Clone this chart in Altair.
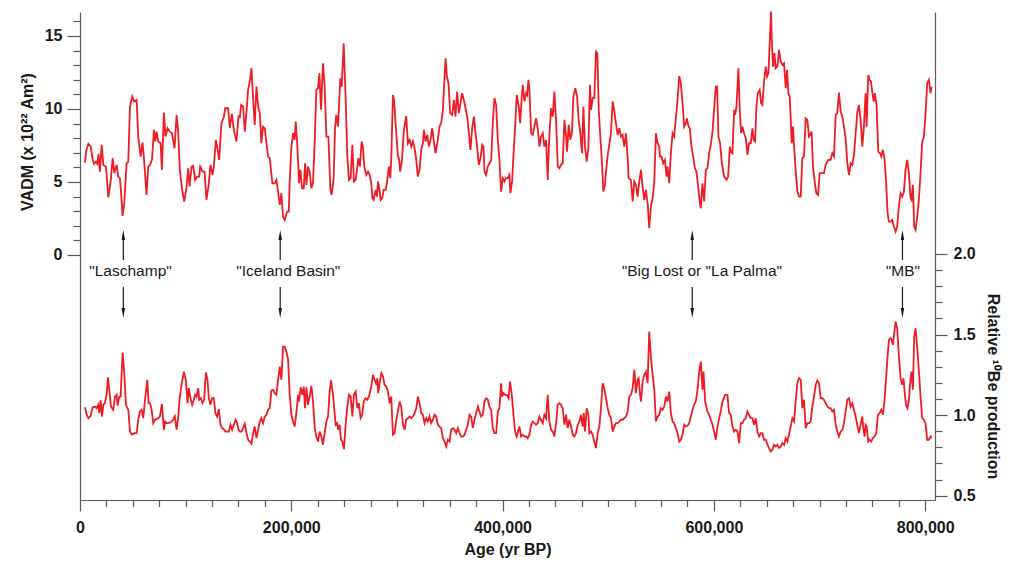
import altair as alt
import pandas as pd

# ---------------- data (age in ka, value) ----------------
vadm_0_275 = [
    (4.7, 6.33), (5.7, 7.08), (7.9, 7.61), (10.1, 7.43), (12.0, 6.51), (13.2, 6.24), (15.1, 6.40),
    (16.4, 6.24), (17.6, 6.92), (18.9, 5.71), (20.5, 7.54), (22.1, 6.17), (24.6, 6.05), (26.8, 3.95),
    (29.0, 5.03), (30.9, 6.63), (32.5, 5.60), (34.7, 6.17), (36.2, 5.37), (37.8, 5.26), (39.4, 3.77),
    (40.3, 2.68), (41.9, 3.54), (44.1, 6.28), (45.7, 6.40), (47.3, 10.17), (49.5, 10.85), (51.4, 10.51),
    (53.6, 10.62), (55.1, 8.11), (57.4, 6.74), (59.2, 7.70), (60.5, 6.63), (63.0, 4.11), (64.6, 6.05),
    (66.2, 6.17), (68.1, 6.51), (70.0, 8.57), (71.2, 7.77), (72.5, 8.45), (74.1, 7.77), (76.3, 7.65),
    (77.5, 5.83), (79.4, 9.75), (81.0, 8.11), (82.9, 8.68), (85.1, 8.45), (87.0, 8.34), (89.5, 7.31),
    (91.4, 9.59), (93.0, 8.34), (94.5, 5.83), (96.7, 4.46), (98.6, 3.66), (100.8, 4.57), (102.4, 5.94),
    (103.7, 4.69), (105.6, 6.05), (107.1, 6.10), (109.0, 5.14), (110.9, 5.37), (112.8, 5.37), (113.8, 6.05),
    (116.0, 5.71), (117.9, 5.71), (119.7, 3.77), (121.6, 4.69), (123.5, 6.17), (125.4, 5.48), (126.7, 6.05),
    (128.6, 7.88), (130.1, 7.31), (131.7, 6.51), (133.9, 9.02), (136.1, 9.43), (137.4, 10.05), (140.2, 10.05),
    (141.8, 8.68), (143.7, 9.66), (145.9, 8.45), (148.1, 7.77), (150.0, 9.48), (151.3, 9.43), (152.5, 10.28),
    (154.4, 10.17), (156.0, 8.45), (157.6, 9.82), (159.1, 11.31), (160.7, 11.88), (162.3, 12.79), (163.9, 10.62),
    (165.4, 8.91), (167.0, 11.53), (168.6, 10.17), (170.2, 9.71), (171.7, 7.65), (173.3, 8.79), (174.9, 8.68),
    (176.5, 7.65), (178.0, 6.74), (179.6, 6.63), (182.1, 4.91), (184.3, 4.91), (185.9, 5.14), (187.5, 4.34),
    (189.1, 3.43), (190.6, 4.23), (192.2, 2.63), (193.8, 2.40), (196.0, 2.97), (197.6, 2.97), (198.5, 5.03),
    (200.1, 7.42), (201.7, 8.34), (203.2, 7.88), (204.2, 9.14), (205.8, 7.42), (207.3, 4.91), (208.6, 5.83),
    (210.2, 4.57), (211.8, 4.57), (213.0, 6.28), (214.3, 4.80), (215.8, 6.05), (217.4, 5.71), (219.0, 4.57),
    (220.6, 4.96), (222.2, 7.88), (223.7, 11.31), (225.3, 11.42), (226.6, 12.45), (228.1, 9.94), (230.0, 13.13),
    (231.6, 11.53), (233.2, 8.11), (235.1, 8.11), (237.0, 4.46), (238.2, 4.11), (240.1, 5.26), (241.4, 8.68),
    (242.6, 9.59), (244.2, 8.79), (246.4, 12.10), (247.7, 11.53), (249.6, 14.50), (251.5, 10.62), (253.0, 6.74),
    (254.6, 5.14), (256.2, 5.26), (257.8, 7.54), (259.3, 5.03), (260.9, 5.14), (262.2, 5.83), (263.4, 6.63),
    (265.0, 6.05), (266.6, 7.77), (267.8, 7.42), (269.1, 6.05), (271.0, 5.48), (272.6, 5.71),
]
vadm_275_550 = [
    (274.2, 5.48), (275.7, 4.91), (276.7, 3.89), (277.9, 3.77), (279.8, 4.46), (281.1, 4.00), (282.0, 5.03),
    (283.0, 4.69), (284.6, 3.77), (286.1, 3.89), (287.4, 4.46), (289.3, 4.46), (290.5, 4.91), (292.4, 6.05),
    (293.7, 5.26), (294.6, 6.51), (296.2, 10.96), (297.2, 10.62), (299.4, 8.34), (300.9, 6.74), (301.9, 6.63),
    (303.1, 5.71), (304.7, 6.51), (306.6, 8.57), (308.8, 9.52), (310.4, 7.65), (312.0, 7.88), (313.5, 7.42),
    (315.1, 7.77), (316.7, 7.31), (318.3, 6.51), (319.8, 5.37), (321.4, 5.83), (323.0, 7.20), (324.6, 7.65),
    (325.5, 8.57), (327.1, 7.77), (328.7, 8.22), (330.2, 7.42), (331.8, 7.88), (333.4, 8.68), (334.7, 7.88),
    (336.5, 6.97), (338.7, 7.88), (340.3, 8.79), (341.9, 9.02), (343.5, 9.94), (345.1, 12.22), (346.0, 13.47),
    (347.3, 12.22), (348.8, 11.76), (350.4, 9.71), (352.3, 9.59), (353.9, 10.62), (355.4, 9.48), (357.0, 11.19),
    (358.6, 9.71), (360.2, 10.39), (361.7, 11.08), (363.3, 10.62), (364.9, 10.05), (366.5, 9.48), (368.1, 8.34),
    (369.6, 7.20), (371.2, 8.68), (372.8, 9.48), (374.4, 8.34), (375.9, 7.42), (377.5, 6.17), (379.1, 6.63),
    (380.7, 7.54), (381.9, 7.42), (382.9, 5.71), (384.4, 5.48), (386.0, 6.05), (387.6, 6.28), (389.2, 6.51),
    (390.7, 9.02), (392.3, 10.74), (393.9, 10.28), (395.5, 7.88), (397.0, 6.51), (398.6, 4.34), (400.2, 5.26),
    (401.8, 5.03), (403.3, 5.26), (404.9, 5.26), (406.5, 5.48), (407.4, 4.23), (409.0, 5.03), (410.6, 7.20),
    (412.2, 9.25), (413.4, 10.96), (415.3, 10.17), (416.6, 9.02), (418.2, 10.85), (419.1, 11.65), (420.7, 10.51),
    (422.3, 11.08), (423.2, 10.96), (424.5, 11.99), (425.4, 11.31), (427.0, 8.34), (428.6, 8.22), (430.1, 8.79),
    (431.7, 9.36), (433.3, 8.68), (434.9, 7.42), (436.4, 8.11), (438.0, 8.34), (439.6, 7.42), (441.2, 7.88),
    (442.7, 5.14), (444.3, 8.22), (445.9, 10.05), (447.5, 9.48), (449.0, 11.19), (450.6, 9.25), (452.2, 6.05),
    (453.8, 5.94), (455.3, 6.17), (456.9, 6.28), (458.5, 9.25), (460.1, 8.11), (461.0, 7.08), (462.6, 8.91),
    (464.2, 7.88), (465.7, 8.45), (467.0, 10.85), (468.9, 11.42), (470.5, 10.85), (472.0, 9.25), (473.6, 8.34),
    (475.2, 6.97), (476.5, 10.17), (478.0, 7.42), (479.6, 6.40), (481.2, 7.31), (482.7, 11.65), (483.7, 9.94),
    (485.3, 10.74), (486.8, 10.74), (488.4, 13.93), (489.7, 13.82), (491.0, 9.94), (492.5, 8.11), (494.1, 6.28),
    (495.4, 4.34), (496.9, 4.80), (497.9, 5.71), (499.5, 6.85), (501.0, 7.54), (502.6, 8.34), (504.2, 10.51),
    (505.8, 9.82), (507.3, 9.02), (508.9, 8.22), (510.5, 8.68), (512.1, 8.11), (513.6, 8.22), (515.2, 7.42),
    (516.8, 8.34), (518.4, 6.63), (519.3, 5.26), (521.5, 5.14), (523.1, 3.66), (524.7, 5.03), (526.2, 4.80),
    (527.8, 4.00), (529.4, 5.03), (531.0, 5.83), (532.5, 4.69), (534.1, 3.77), (535.7, 4.46), (537.3, 3.54),
    (538.8, 1.83), (540.4, 3.32), (542.0, 3.89), (543.6, 5.00), (545.1, 8.34), (546.7, 7.65), (548.3, 7.42),
]
vadm_550_810 = [
    (548.9, 6.74), (550.5, 6.74), (552.0, 6.28), (553.6, 6.51), (555.2, 5.37), (556.1, 6.05), (557.7, 4.91),
    (559.3, 6.97), (560.9, 8.34), (562.4, 8.11), (564.0, 9.36), (565.6, 10.62), (567.2, 12.26), (568.7, 11.76),
    (570.3, 10.39), (571.9, 8.79), (573.5, 9.02), (574.4, 9.36), (576.0, 8.79), (577.2, 8.68), (578.8, 7.42),
    (580.4, 6.74), (582.0, 5.94), (583.5, 5.71), (585.1, 4.69), (586.7, 3.54), (587.6, 3.20), (589.2, 4.91),
    (590.8, 3.66), (592.4, 5.83), (593.9, 5.94), (595.5, 6.97), (597.1, 7.54), (598.7, 8.45), (600.2, 9.94),
    (601.8, 11.53), (603.1, 11.53), (604.3, 8.11), (605.9, 7.65), (607.5, 6.28), (609.7, 5.37), (611.9, 5.14),
    (613.5, 5.37), (615.1, 7.42), (616.0, 7.08), (617.6, 6.97), (619.2, 9.94), (620.1, 9.59), (621.4, 10.17),
    (623.2, 12.79), (624.5, 9.94), (625.8, 8.34), (627.0, 8.79), (628.6, 8.34), (630.2, 8.00), (631.8, 6.85),
    (633.3, 7.65), (634.9, 7.65), (636.5, 8.68), (637.7, 7.88), (639.0, 7.77), (640.3, 10.17), (641.5, 11.08),
    (643.4, 11.31), (644.7, 10.39), (645.9, 10.28), (647.5, 11.88), (649.1, 12.90), (650.3, 12.22), (651.6, 12.45),
    (652.9, 14.62), (654.1, 16.67), (654.8, 14.73), (656.0, 12.90), (657.3, 13.82), (658.5, 12.79), (660.1, 12.90),
    (661.7, 14.05), (663.3, 13.25), (664.8, 13.02), (666.4, 13.13), (668.0, 11.42), (669.3, 12.68), (670.5, 11.08),
    (671.8, 10.85), (673.7, 7.65), (674.9, 8.79), (675.9, 7.42), (677.4, 5.83), (679.0, 4.34), (680.6, 4.00),
    (682.2, 4.00), (683.7, 6.63), (685.3, 6.74), (686.9, 9.36), (688.5, 9.25), (690.0, 8.11), (691.0, 8.22),
    (692.5, 8.45), (693.8, 6.05), (695.4, 5.03), (697.0, 4.23), (698.6, 4.11), (700.1, 5.60), (702.7, 5.60),
    (704.2, 5.60), (705.8, 6.17), (708.3, 6.51), (710.5, 6.51), (712.1, 6.97), (713.7, 6.74), (715.3, 9.59),
    (716.8, 9.71), (718.4, 11.12), (720.0, 9.82), (721.6, 9.48), (723.1, 8.79), (724.7, 8.00), (726.3, 6.28),
    (727.9, 5.48), (729.4, 6.28), (731.0, 6.17), (732.6, 6.85), (734.2, 8.34), (735.7, 9.71), (737.3, 10.28),
    (738.9, 9.25), (740.5, 7.42), (742.0, 8.79), (743.6, 11.08), (744.6, 8.79), (746.1, 12.33), (747.4, 11.99),
    (748.7, 11.88), (749.9, 11.19), (751.2, 10.51), (752.4, 11.08), (754.0, 10.28), (755.6, 7.08), (757.2, 6.97),
    (758.4, 6.74), (760.0, 7.20), (761.6, 6.51), (763.1, 4.91), (764.4, 2.86), (765.7, 2.29), (767.2, 2.29),
    (768.8, 2.40), (770.4, 1.95), (772.0, 1.60), (773.5, 1.95), (775.1, 3.32), (776.7, 4.23), (778.3, 4.00),
    (779.9, 4.34), (781.4, 5.83), (783.0, 6.51), (784.6, 5.60), (786.2, 3.89), (787.1, 3.77), (788.4, 4.80),
    (789.6, 1.95), (790.9, 1.72), (792.5, 2.63), (794.0, 3.77), (795.6, 5.60), (797.2, 7.77), (798.8, 8.11),
    (800.3, 9.59), (801.9, 11.76), (803.5, 11.99), (805.1, 11.08), (806.0, 11.53),
]

be_0_275 = [
    (4.7, 1.049), (6.3, 1.002), (7.9, 0.981), (10.1, 0.995), (12.0, 1.049), (14.2, 1.053), (15.8, 1.043),
    (17.3, 1.064), (18.3, 1.012), (19.5, 1.091), (20.8, 0.991), (22.1, 1.064), (23.6, 1.074), (25.2, 1.126),
    (26.5, 1.235), (27.7, 1.157), (29.3, 1.053), (31.5, 1.033), (33.1, 1.115), (34.7, 1.126), (35.6, 1.058),
    (37.2, 1.115), (38.5, 1.115), (40.3, 1.388), (41.9, 1.260), (43.5, 1.064), (45.7, 1.033), (47.3, 0.898),
    (49.2, 0.878), (51.4, 0.888), (53.6, 0.888), (55.1, 0.971), (56.7, 1.022), (58.3, 1.033), (59.9, 0.981),
    (61.5, 1.095), (63.7, 1.219), (64.9, 1.074), (66.2, 1.074), (67.8, 1.033), (69.3, 0.950), (70.9, 0.971),
    (72.5, 0.975), (74.1, 0.981), (75.6, 0.991), (77.5, 1.070), (79.4, 0.909), (80.7, 0.960), (81.9, 0.950),
    (83.5, 0.950), (85.1, 0.954), (86.7, 0.960), (88.2, 0.971), (89.8, 0.991), (91.4, 0.909), (93.0, 0.991),
    (94.5, 1.115), (96.1, 1.188), (98.3, 1.270), (100.2, 1.219), (101.8, 1.074), (103.0, 1.167), (104.6, 1.105),
    (106.2, 1.064), (107.8, 1.095), (109.0, 1.126), (110.3, 1.115), (111.9, 1.167), (112.8, 1.095), (114.4, 1.105),
    (116.0, 1.074), (117.5, 1.095), (119.1, 1.264), (120.7, 1.219), (121.9, 1.105), (123.5, 1.064), (125.1, 1.105),
    (126.7, 1.105), (128.2, 1.012), (129.8, 0.991), (131.4, 1.037), (133.0, 0.940), (134.5, 0.919), (136.1, 0.913),
    (137.7, 0.898), (139.3, 0.898), (140.9, 0.898), (142.4, 0.940), (144.0, 0.909), (145.6, 0.940), (147.2, 0.971),
    (148.7, 0.950), (150.0, 0.909), (151.3, 0.898), (152.8, 0.898), (154.4, 0.919), (156.0, 0.946), (157.6, 0.888),
    (159.1, 0.847), (160.7, 0.836), (162.3, 0.822), (163.9, 0.888), (165.4, 0.929), (167.0, 0.857), (168.6, 0.909),
    (170.2, 0.960), (171.7, 0.981), (173.3, 0.950), (174.9, 0.991), (176.5, 1.002), (178.0, 1.033), (179.6, 1.043),
    (181.2, 1.153), (182.8, 1.157), (184.3, 1.136), (185.9, 1.126), (187.5, 1.219), (189.1, 1.301), (190.6, 1.219),
    (192.2, 1.425), (193.8, 1.425), (195.4, 1.394), (197.0, 1.343), (198.5, 1.126), (200.1, 1.002), (201.7, 0.960),
    (203.2, 0.929), (204.8, 1.012), (206.4, 1.126), (207.3, 1.084), (208.9, 1.173), (210.5, 1.126), (211.8, 1.177),
    (213.0, 1.043), (214.3, 1.173), (215.8, 1.064), (217.4, 1.115), (219.0, 1.182), (220.6, 1.084), (222.2, 0.919),
    (223.7, 0.867), (225.3, 0.836), (226.9, 0.898), (228.5, 0.867), (230.0, 0.816), (231.6, 0.888), (233.2, 0.960),
    (234.8, 0.991), (236.3, 1.146), (237.6, 1.215), (239.5, 1.126), (240.4, 1.058), (242.0, 0.940), (243.3, 0.950),
    (244.5, 0.909), (245.8, 0.940), (247.0, 0.847), (248.3, 0.836), (249.9, 0.789), (251.4, 0.940), (253.0, 1.049),
    (254.6, 1.126), (256.2, 1.115), (257.8, 0.991), (259.3, 1.126), (260.9, 1.146), (262.5, 1.043), (264.0, 1.074),
    (265.6, 0.981), (267.2, 1.002), (268.5, 1.084), (270.4, 1.105), (271.9, 1.095), (273.5, 1.115),
]
be_275_550 = [
    (275.7, 1.177), (277.3, 1.250), (278.9, 1.219), (280.5, 1.188), (281.4, 1.229), (282.3, 1.136), (283.6, 1.198),
    (285.2, 1.260), (286.8, 1.239), (288.3, 1.188), (289.9, 1.177), (291.5, 1.146), (293.1, 1.074), (294.6, 1.115),
    (296.2, 0.878), (297.8, 0.888), (299.4, 0.971), (300.9, 1.022), (302.5, 1.084), (304.1, 1.053), (305.7, 0.940),
    (307.2, 0.909), (308.8, 0.971), (310.4, 0.981), (312.0, 0.991), (313.5, 0.981), (315.1, 0.991), (316.7, 1.012),
    (318.3, 1.043), (319.8, 1.115), (321.4, 1.074), (323.0, 1.012), (324.6, 1.002), (326.1, 0.950), (327.7, 0.981),
    (329.3, 0.960), (330.9, 0.991), (332.4, 0.950), (334.0, 0.971), (335.6, 1.002), (337.2, 0.991), (338.7, 0.940),
    (340.3, 0.929), (341.9, 0.919), (343.5, 0.857), (345.1, 0.836), (346.6, 0.805), (348.2, 0.847), (349.8, 0.836),
    (351.4, 0.909), (352.9, 0.919), (354.5, 0.909), (356.1, 0.888), (357.7, 0.919), (359.2, 0.888), (360.8, 0.867),
    (362.4, 0.867), (364.0, 0.878), (365.5, 0.909), (367.1, 0.940), (368.7, 1.002), (370.3, 0.991), (371.8, 0.919),
    (373.4, 0.971), (375.0, 1.012), (376.6, 1.053), (378.1, 1.022), (379.7, 0.991), (381.3, 1.002), (382.9, 1.084),
    (384.4, 1.105), (386.0, 1.095), (387.6, 1.053), (389.2, 1.033), (390.7, 0.919), (392.3, 0.888), (393.9, 0.888),
    (395.5, 1.022), (397.0, 1.043), (398.6, 1.198), (399.6, 1.115), (400.8, 1.136), (402.4, 1.126), (404.0, 1.126),
    (405.6, 1.105), (407.1, 1.208), (408.7, 1.126), (410.3, 1.002), (411.8, 0.898), (413.4, 0.867), (415.0, 0.909),
    (416.0, 0.929), (417.5, 0.867), (419.1, 0.878), (420.7, 0.867), (422.3, 0.867), (423.8, 0.857), (425.4, 0.878),
    (427.0, 0.940), (428.6, 0.960), (430.1, 0.950), (431.7, 0.940), (433.3, 0.950), (434.9, 0.991), (436.4, 0.971),
    (438.0, 0.950), (439.6, 1.002), (441.2, 0.981), (442.7, 1.126), (444.3, 0.960), (445.9, 0.909), (447.5, 0.898),
    (449.0, 0.867), (450.6, 0.950), (452.2, 1.064), (453.8, 1.074), (455.3, 1.064), (456.9, 1.043), (458.5, 0.940),
    (460.1, 1.002), (461.6, 0.919), (463.2, 0.971), (464.8, 0.929), (466.4, 0.878), (467.9, 0.867), (469.5, 0.888),
    (471.1, 0.940), (472.7, 0.960), (474.2, 1.002), (475.8, 0.929), (476.8, 1.012), (478.0, 0.898), (479.6, 1.043),
    (481.2, 1.002), (482.1, 0.888), (483.7, 0.898), (485.3, 0.878), (486.8, 0.836), (488.4, 0.795), (490.0, 0.888),
    (491.6, 0.929), (493.1, 1.043), (494.7, 1.198), (496.3, 1.167), (497.9, 1.105), (499.5, 1.043), (501.0, 1.002),
    (502.6, 0.981), (504.2, 0.898), (505.8, 0.929), (507.3, 0.950), (508.9, 0.950), (510.5, 0.960), (512.1, 0.971),
    (513.6, 0.971), (515.2, 0.981), (516.8, 0.991), (518.4, 1.022), (519.9, 1.115), (521.5, 1.126), (523.1, 1.167),
    (524.7, 1.281), (526.2, 1.136), (527.8, 1.219), (528.8, 1.229), (530.0, 1.136), (531.0, 1.084), (532.5, 1.208),
    (534.1, 1.250), (535.7, 1.270), (537.3, 1.198), (538.8, 1.518), (540.4, 1.363), (542.0, 1.250), (543.6, 1.157),
    (545.1, 0.960), (546.7, 0.991), (548.3, 1.002),
]
be_550_810 = [
    (549.8, 1.043), (551.4, 1.033), (553.0, 1.053), (554.6, 1.115), (556.1, 1.084), (557.7, 1.146), (559.3, 1.012),
    (560.9, 0.960), (562.4, 0.950), (564.0, 0.919), (565.6, 0.888), (567.2, 0.836), (568.7, 0.847), (570.3, 0.878),
    (571.9, 0.940), (573.5, 0.929), (575.0, 0.933), (576.6, 0.950), (578.2, 0.991), (579.8, 1.033), (581.3, 1.064),
    (582.9, 1.084), (584.5, 1.157), (586.1, 1.270), (587.6, 1.332), (589.2, 1.157), (590.2, 1.270), (591.7, 1.084),
    (593.9, 1.022), (595.5, 1.002), (597.1, 0.971), (598.7, 0.940), (600.2, 0.898), (601.8, 0.847), (603.4, 0.929),
    (605.0, 0.981), (606.5, 1.022), (608.1, 1.084), (610.6, 1.126), (612.8, 1.126), (614.4, 1.012), (616.0, 1.002),
    (617.6, 0.929), (619.2, 0.898), (620.7, 0.909), (622.3, 0.898), (623.9, 0.826), (625.5, 0.950), (627.0, 0.950),
    (628.6, 0.971), (630.2, 0.981), (631.8, 1.022), (633.3, 1.002), (634.9, 0.981), (636.5, 0.981), (638.1, 0.940),
    (639.6, 0.981), (641.2, 0.898), (642.8, 0.867), (644.4, 0.888), (645.9, 0.888), (647.5, 0.847), (649.1, 0.847),
    (650.7, 0.816), (652.2, 0.795), (653.8, 0.774), (655.4, 0.785), (657.0, 0.816), (658.5, 0.805), (660.1, 0.816),
    (661.7, 0.795), (663.3, 0.805), (664.8, 0.826), (666.4, 0.816), (668.0, 0.857), (669.6, 0.836), (671.1, 0.878),
    (672.7, 0.929), (674.3, 0.981), (675.9, 0.960), (677.4, 1.084), (679.0, 1.198), (680.6, 1.229), (682.2, 1.219),
    (683.7, 1.043), (685.3, 1.095), (686.9, 0.919), (688.5, 0.950), (690.0, 0.950), (691.6, 0.960), (693.2, 1.053),
    (694.8, 1.115), (696.4, 1.188), (697.9, 1.215), (699.5, 1.198), (701.1, 1.105), (702.7, 1.105), (704.2, 1.095),
    (705.8, 1.074), (707.4, 1.053), (709.0, 1.043), (710.5, 1.043), (712.1, 1.022), (713.7, 1.033), (715.3, 0.940),
    (716.8, 0.898), (718.4, 0.867), (720.0, 0.898), (721.6, 0.909), (723.1, 0.950), (724.7, 1.022), (726.3, 1.095),
    (727.9, 1.105), (729.4, 1.053), (731.0, 1.074), (732.6, 1.033), (734.2, 0.991), (735.7, 0.940), (737.3, 0.888),
    (738.9, 0.940), (740.5, 0.991), (741.4, 0.919), (742.7, 0.867), (743.6, 0.940), (744.6, 0.929), (746.1, 0.836),
    (747.4, 0.847), (749.0, 0.836), (750.5, 0.857), (752.1, 0.867), (753.7, 0.888), (755.3, 1.002), (756.8, 1.012),
    (758.4, 1.033), (760.0, 1.002), (761.6, 1.095), (763.1, 1.239), (764.4, 1.363), (765.7, 1.467), (767.2, 1.477),
    (768.2, 1.467), (769.5, 1.436), (770.4, 1.487), (772.0, 1.580), (773.5, 1.539), (775.1, 1.374), (776.7, 1.229),
    (778.3, 1.188), (779.5, 1.229), (780.8, 1.126), (782.1, 1.058), (783.3, 1.043), (784.6, 1.095), (786.2, 1.229),
    (787.1, 1.270), (788.4, 1.157), (789.6, 1.487), (790.9, 1.539), (792.5, 1.415), (794.0, 1.281), (795.6, 1.115),
    (797.2, 0.981), (798.8, 0.971), (800.3, 0.950), (801.9, 0.847), (803.5, 0.847), (805.1, 0.867), (806.0, 0.857),
]

# events (arrows) and their labels
event_names = ['"Laschamp"', '"Iceland Basin"', '"Big Lost or "La Palma"', '"MB"']
event_age = [41000, 189500, 579500, 778500]
label_age = [47800, 197200, 588600, 779000]

# annotation levels, in VADM units (left scale)
up_head_y = 1.37
up_shaft = (1.03, -0.34)
label_y = -1.10
down_shaft = (-2.19, -3.63)
down_head_y = -3.97

x_ticks = list(range(0, 800001, 25000))
vadm_ticks = list(range(0, 17))
be_ticks = [round(0.5 + 0.1 * i, 1) for i in range(16)]

# ---------------- frames ----------------
vadm = pd.DataFrame(vadm_0_275 + vadm_275_550 + vadm_550_810, columns=["age_ka", "val"])
vadm["age"] = vadm["age_ka"] * 1000
be = pd.DataFrame(be_0_275 + be_275_550 + be_550_810, columns=["age_ka", "val"])
be["age"] = be["age_ka"] * 1000

ev = pd.DataFrame({"age": event_age, "lab_age": label_age, "name": event_names})
ev["uh"] = up_head_y
ev["us1"], ev["us2"] = up_shaft
ev["ly"] = label_y
ev["ds1"], ev["ds2"] = down_shaft
ev["dh"] = down_head_y

RED = "#ee1d25"
FONT = "Liberation Sans"
INK = "#1a1a1a"
AX = "#5a5a5a"

x_scale = alt.Scale(domain=[0, 809300], nice=False, zero=False)
x_axis = alt.Axis(
    values=x_ticks,
    labelExpr="datum.value % 200000 === 0 ? format(datum.value, ',') : ''",
    tickSize={"condition": {"test": "datum.value % 200000 === 0", "value": 11}, "value": 6.5},
    labelPadding=8,
    labelFlush=False,
    labelOverlap=False,
    title="Age (yr BP)",
    titleBaseline="top",
    titleY=41,
)
left_scale = alt.Scale(domain=[-16.78, 16.64], nice=False, zero=False)
be_scale = alt.Scale(domain=[0.473, 3.502], nice=False, zero=False)


def X(field):
    return alt.X(field, type="quantitative", scale=x_scale, axis=x_axis)


left_axis = alt.Axis(
    values=vadm_ticks,
    labelExpr="datum.value % 5 === 0 ? datum.label : ''",
    tickSize={"condition": {"test": "datum.value % 5 === 0", "value": 13}, "value": 7},
    labelPadding=5,
    labelOverlap=False,
    labelFlush=False,
    title="VADM (x 10²² Am²)",
    titleAngle=270,
    titleBaseline="middle",
    titleAlign="center",
    titleX=-53,
    titleY=129.5,
)
right_axis = alt.Axis(
    orient="right",
    values=be_ticks,
    labelExpr="abs(datum.value * 2 - round(datum.value * 2)) < 0.001 ? format(datum.value, '.1f') : ''",
    tickSize={"condition": {"test": "abs(datum.value * 2 - round(datum.value * 2)) < 0.001", "value": 12}, "value": 7},
    labelPadding=6,
    labelOverlap=False,
    labelFlush=False,
    title="Relative ¹⁰Be production",
    titleAngle=90,
    titleBaseline="middle",
    titleAlign="center",
    titleX=57,
    titleY=374,
)


def YL(field):
    return alt.Y(field, type="quantitative", scale=left_scale, axis=left_axis)


vadm_line = alt.Chart(vadm).mark_line(color=RED, strokeWidth=1.8).encode(
    x=X("age"), y=YL("val")
)

shaft_up = alt.Chart(ev).mark_rule(color=INK, strokeWidth=1.2).encode(
    x=X("age"), y=YL("us1"), y2="us2"
)
shaft_down = alt.Chart(ev).mark_rule(color=INK, strokeWidth=1.2).encode(
    x=X("age"), y=YL("ds1"), y2="ds2"
)
head_up = alt.Chart(ev).mark_point(
    shape="M0,-1L0.35,1L-0.35,1Z", filled=True, size=100, color=INK, opacity=1, strokeWidth=0
).encode(x=X("age"), y=YL("uh"))
head_down = alt.Chart(ev).mark_point(
    shape="M0,1L0.35,-1L-0.35,-1Z", filled=True, size=100, color=INK, opacity=1, strokeWidth=0
).encode(x=X("age"), y=YL("dh"))
labels = alt.Chart(ev).mark_text(
    font=FONT, fontSize=15.5, color=INK, align="center", baseline="middle"
).encode(
    x=X("lab_age"),
    y=YL("ly"),
    text="name:N",
)

left = alt.layer(vadm_line, shaft_up, shaft_down, head_up, head_down, labels)

be_line = alt.Chart(be).mark_line(color=RED, strokeWidth=1.8).encode(
    x=X("age"), y=alt.Y("val", type="quantitative", scale=be_scale, axis=right_axis)
)

chart = (
    alt.layer(left, be_line)
    .resolve_scale(y="independent")
    .properties(
        width=855,
        height=488,
        padding={"left": 72, "top": 4, "right": 70, "bottom": 61},
        autosize=alt.AutoSizeParams(type="none"),
    )
    .configure_view(stroke=None)
    .configure_axis(
        grid=False,
        domainColor=AX,
        tickColor=AX,
        domainWidth=1.2,
        tickWidth=1.2,
        labelFont=FONT,
        labelFontSize=16,
        labelFontWeight="bold",
        labelColor=INK,
        titleFont=FONT,
        titleFontSize=16,
        titleFontWeight="bold",
        titleColor=INK,
    )
)

chart.save("out.html", embed_options={"renderer": "svg", "actions": False})
